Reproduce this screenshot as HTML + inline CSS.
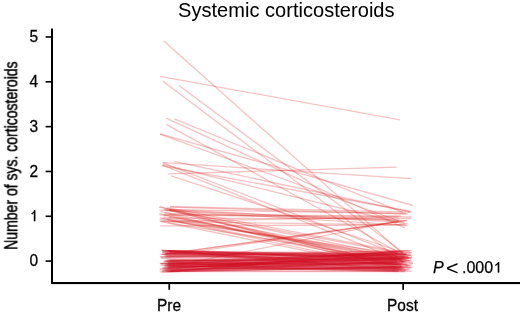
<!DOCTYPE html>
<html><head><meta charset="utf-8"><style>
html,body{margin:0;padding:0;background:#fff;width:520px;height:315px;overflow:hidden}
body{position:relative;font-family:"Liberation Sans",sans-serif;color:#000;-webkit-text-stroke:0.25px #000}
svg{position:absolute;left:0;top:0}
.t{position:absolute;white-space:nowrap;line-height:1;will-change:transform}
.tl{position:absolute;will-change:transform;left:22px;width:16px;text-align:right;font-size:15.5px;line-height:1;white-space:nowrap;transform:scaleY(1.1);transform-origin:50% 50%}
.sy{transform:scaleY(1.02);transform-origin:0 0}
</style></head><body>
<div class="t" style="left:178px;top:0px;font-size:20px;letter-spacing:0.04px;-webkit-text-stroke:0.05px #000">Systemic corticosteroids</div>
<div class="t" id="yl" style="left:0;top:0;font-size:18.5px;-webkit-text-stroke:0.5px #000;transform-origin:0 0;transform:translate(2.3px,249.8px) rotate(-90deg) scaleX(0.757)">Number of sys. corticosteroids</div>
<div class="tl" style="top:252.4px">0</div><div class="tl" style="top:162.8px">2</div><div class="tl" style="top:117.9px">3</div><div class="tl" style="top:73.1px">4</div><div class="tl" style="top:28.3px">5</div>
<div class="t sy" style="left:157.3px;top:297.9px;font-size:15.5px">Pre</div>
<div class="t sy" style="left:387.3px;top:297.9px;font-size:15.5px">Post</div>
<div class="t" style="left:433px;top:259.6px;font-size:16px;transform:scaleY(1.0);transform-origin:0 0"><i>P</i></div>
<div class="t" style="left:446.2px;top:257.8px;font-size:20.5px;-webkit-text-stroke:0;transform:scaleX(1.05);transform-origin:0 0">&lt;</div>
<div class="t" style="left:461.5px;top:259.6px;font-size:16px;transform:scaleY(1.0);transform-origin:0 0">.000</div>
<svg width="520" height="315" viewBox="0 0 520 315">
<g stroke="rgb(210,16,30)" stroke-width="1.3" fill="none" stroke-linecap="butt">
<line x1="163.8" y1="41.0" x2="405.0" y2="255.7" stroke="rgb(216,34,30)" stroke-opacity="0.27"/><line x1="160.0" y1="76.4" x2="400.0" y2="119.9" stroke="rgb(216,34,30)" stroke-opacity="0.27"/><line x1="162.6" y1="80.9" x2="404.0" y2="262.9" stroke="rgb(216,34,30)" stroke-opacity="0.27"/><line x1="179.0" y1="85.4" x2="403.0" y2="252.6" stroke="rgb(216,34,30)" stroke-opacity="0.27"/><line x1="166.2" y1="118.2" x2="405.0" y2="228.0" stroke="rgb(216,34,30)" stroke-opacity="0.27"/><line x1="174.2" y1="118.8" x2="403.0" y2="212.6" stroke="rgb(216,34,30)" stroke-opacity="0.27"/><line x1="160.0" y1="134.2" x2="407.0" y2="224.0" stroke="rgb(216,34,30)" stroke-opacity="0.27"/><line x1="166.2" y1="124.4" x2="398.0" y2="252.0" stroke="rgb(216,34,30)" stroke-opacity="0.27"/><line x1="160.0" y1="133.8" x2="413.0" y2="205.5" stroke="rgb(216,34,30)" stroke-opacity="0.27"/><line x1="162.5" y1="162.7" x2="411.4" y2="178.6" stroke="rgb(216,34,30)" stroke-opacity="0.27"/><line x1="168.3" y1="173.8" x2="396.6" y2="167.1" stroke="rgb(216,34,30)" stroke-opacity="0.27"/><line x1="174.0" y1="161.3" x2="410.0" y2="212.0" stroke="rgb(216,34,30)" stroke-opacity="0.27"/><line x1="161.5" y1="165.8" x2="411.3" y2="211.5" stroke="rgb(216,34,30)" stroke-opacity="0.27"/><line x1="171.2" y1="175.8" x2="402.0" y2="252.0" stroke="rgb(216,34,30)" stroke-opacity="0.27"/><line x1="162.6" y1="164.5" x2="405.0" y2="224.0" stroke="rgb(216,34,30)" stroke-opacity="0.27"/><line x1="163.0" y1="162.8" x2="404.0" y2="256.8" stroke="rgb(216,34,30)" stroke-opacity="0.27"/><line x1="162.6" y1="165.2" x2="405.0" y2="262.0" stroke="rgb(216,34,30)" stroke-opacity="0.27"/><line x1="163.7" y1="215.1" x2="411.9" y2="217.0" stroke="rgb(216,34,30)" stroke-opacity="0.27"/><line x1="164.3" y1="214.6" x2="400.8" y2="216.0" stroke="rgb(216,34,30)" stroke-opacity="0.27"/><line x1="165.7" y1="210.5" x2="399.4" y2="220.2" stroke="rgb(216,34,30)" stroke-opacity="0.27"/><line x1="159.5" y1="210.2" x2="408.4" y2="225.3" stroke="rgb(216,34,30)" stroke-opacity="0.27"/><line x1="169.8" y1="207.1" x2="407.8" y2="214.0" stroke="rgb(216,34,30)" stroke-opacity="0.27"/><line x1="160.3" y1="225.8" x2="405.9" y2="225.0" stroke="rgb(216,34,30)" stroke-opacity="0.27"/><line x1="160.7" y1="221.4" x2="398.5" y2="217.0" stroke="rgb(216,34,30)" stroke-opacity="0.27"/><line x1="163.6" y1="209.5" x2="405.8" y2="213.5" stroke="rgb(216,34,30)" stroke-opacity="0.27"/><line x1="164.2" y1="213.1" x2="404.9" y2="220.7" stroke="rgb(216,34,30)" stroke-opacity="0.27"/><line x1="170.0" y1="206.5" x2="410.6" y2="212.2" stroke="rgb(216,34,30)" stroke-opacity="0.27"/><line x1="162.1" y1="221.6" x2="402.3" y2="224.8" stroke="rgb(216,34,30)" stroke-opacity="0.27"/><line x1="167.3" y1="218.2" x2="410.7" y2="218.5" stroke="rgb(216,34,30)" stroke-opacity="0.27"/><line x1="169.5" y1="209.4" x2="398.0" y2="222.0" stroke="rgb(216,34,30)" stroke-opacity="0.27"/><line x1="169.0" y1="216.9" x2="412.7" y2="263.1" stroke="rgb(216,34,30)" stroke-opacity="0.27"/><line x1="159.3" y1="213.7" x2="409.7" y2="265.6" stroke="rgb(216,34,30)" stroke-opacity="0.27"/><line x1="159.5" y1="219.6" x2="412.5" y2="256.0" stroke="rgb(216,34,30)" stroke-opacity="0.27"/><line x1="159.9" y1="221.3" x2="399.5" y2="269.8" stroke="rgb(216,34,30)" stroke-opacity="0.27"/><line x1="167.7" y1="222.6" x2="406.4" y2="262.1" stroke="rgb(216,34,30)" stroke-opacity="0.27"/><line x1="160.7" y1="211.7" x2="400.0" y2="258.3" stroke="rgb(216,34,30)" stroke-opacity="0.27"/><line x1="159.8" y1="217.8" x2="401.2" y2="265.6" stroke="rgb(216,34,30)" stroke-opacity="0.27"/><line x1="169.7" y1="210.3" x2="402.6" y2="253.5" stroke="rgb(216,34,30)" stroke-opacity="0.27"/><line x1="160.9" y1="218.4" x2="410.8" y2="258.3" stroke="rgb(216,34,30)" stroke-opacity="0.27"/><line x1="159.7" y1="206.6" x2="401.2" y2="265.9" stroke="rgb(216,34,30)" stroke-opacity="0.27"/><line x1="167.4" y1="219.7" x2="402.4" y2="269.5" stroke="rgb(216,34,30)" stroke-opacity="0.27"/><line x1="159.5" y1="214.6" x2="401.6" y2="259.1" stroke="rgb(216,34,30)" stroke-opacity="0.27"/><line x1="162.8" y1="217.2" x2="412.4" y2="261.4" stroke="rgb(216,34,30)" stroke-opacity="0.27"/><line x1="165.1" y1="209.1" x2="400.7" y2="267.9" stroke="rgb(216,34,30)" stroke-opacity="0.27"/><line x1="168.9" y1="210.0" x2="401.7" y2="267.2" stroke="rgb(216,34,30)" stroke-opacity="0.27"/><line x1="167.0" y1="207.6" x2="400.9" y2="252.2" stroke="rgb(216,34,30)" stroke-opacity="0.27"/><line x1="168.6" y1="214.2" x2="404.3" y2="268.9" stroke="rgb(216,34,30)" stroke-opacity="0.27"/><line x1="158.9" y1="207.2" x2="401.6" y2="257.1" stroke="rgb(216,34,30)" stroke-opacity="0.27"/><line x1="161.5" y1="254.7" x2="406.9" y2="220.4" stroke="rgb(216,34,30)" stroke-opacity="0.27"/><line x1="160.5" y1="256.8" x2="399.0" y2="221.6" stroke="rgb(216,34,30)" stroke-opacity="0.27"/><line x1="164.9" y1="254.2" x2="407.2" y2="220.6" stroke="rgb(216,34,30)" stroke-opacity="0.27"/><line x1="169.0" y1="266.9" x2="398.2" y2="220.8" stroke="rgb(216,34,30)" stroke-opacity="0.27"/><line x1="164.6" y1="268.0" x2="396.1" y2="259.4" stroke="rgb(208,10,32)" stroke-opacity="0.25"/><line x1="161.0" y1="250.3" x2="401.5" y2="257.6" stroke="rgb(208,10,32)" stroke-opacity="0.25"/><line x1="167.4" y1="271.7" x2="405.5" y2="271.5" stroke="rgb(208,10,32)" stroke-opacity="0.25"/><line x1="170.0" y1="260.9" x2="407.6" y2="258.0" stroke="rgb(208,10,32)" stroke-opacity="0.25"/><line x1="165.0" y1="261.1" x2="408.1" y2="270.2" stroke="rgb(208,10,32)" stroke-opacity="0.25"/><line x1="165.8" y1="253.0" x2="408.3" y2="256.6" stroke="rgb(208,10,32)" stroke-opacity="0.25"/><line x1="168.6" y1="264.6" x2="411.5" y2="252.3" stroke="rgb(208,10,32)" stroke-opacity="0.25"/><line x1="169.5" y1="251.6" x2="402.5" y2="259.4" stroke="rgb(208,10,32)" stroke-opacity="0.25"/><line x1="166.7" y1="265.4" x2="401.9" y2="270.1" stroke="rgb(208,10,32)" stroke-opacity="0.25"/><line x1="166.9" y1="253.1" x2="412.9" y2="263.4" stroke="rgb(208,10,32)" stroke-opacity="0.25"/><line x1="168.0" y1="262.9" x2="405.5" y2="270.0" stroke="rgb(208,10,32)" stroke-opacity="0.25"/><line x1="168.1" y1="266.8" x2="395.5" y2="266.9" stroke="rgb(208,10,32)" stroke-opacity="0.25"/><line x1="167.5" y1="262.0" x2="404.0" y2="266.3" stroke="rgb(208,10,32)" stroke-opacity="0.25"/><line x1="159.6" y1="269.9" x2="400.4" y2="268.2" stroke="rgb(208,10,32)" stroke-opacity="0.25"/><line x1="169.9" y1="262.3" x2="406.9" y2="264.7" stroke="rgb(208,10,32)" stroke-opacity="0.25"/><line x1="167.2" y1="263.2" x2="398.6" y2="252.0" stroke="rgb(208,10,32)" stroke-opacity="0.25"/><line x1="169.6" y1="268.6" x2="401.9" y2="268.9" stroke="rgb(208,10,32)" stroke-opacity="0.25"/><line x1="165.2" y1="253.3" x2="410.1" y2="251.2" stroke="rgb(208,10,32)" stroke-opacity="0.25"/><line x1="162.7" y1="269.1" x2="398.0" y2="267.2" stroke="rgb(208,10,32)" stroke-opacity="0.25"/><line x1="164.3" y1="268.6" x2="406.3" y2="253.6" stroke="rgb(208,10,32)" stroke-opacity="0.25"/><line x1="170.8" y1="271.7" x2="403.1" y2="252.9" stroke="rgb(208,10,32)" stroke-opacity="0.25"/><line x1="160.0" y1="268.7" x2="407.8" y2="254.7" stroke="rgb(208,10,32)" stroke-opacity="0.25"/><line x1="159.7" y1="271.8" x2="397.4" y2="253.8" stroke="rgb(208,10,32)" stroke-opacity="0.25"/><line x1="162.2" y1="265.2" x2="397.5" y2="262.2" stroke="rgb(208,10,32)" stroke-opacity="0.25"/><line x1="166.7" y1="250.6" x2="406.8" y2="257.0" stroke="rgb(208,10,32)" stroke-opacity="0.25"/><line x1="161.8" y1="272.0" x2="403.6" y2="261.6" stroke="rgb(208,10,32)" stroke-opacity="0.25"/><line x1="167.7" y1="268.3" x2="398.2" y2="256.7" stroke="rgb(208,10,32)" stroke-opacity="0.25"/><line x1="165.5" y1="256.8" x2="406.1" y2="254.6" stroke="rgb(208,10,32)" stroke-opacity="0.25"/><line x1="169.9" y1="253.2" x2="396.6" y2="269.0" stroke="rgb(208,10,32)" stroke-opacity="0.25"/><line x1="164.7" y1="257.0" x2="406.3" y2="259.5" stroke="rgb(208,10,32)" stroke-opacity="0.25"/><line x1="169.6" y1="256.0" x2="409.3" y2="257.7" stroke="rgb(208,10,32)" stroke-opacity="0.25"/><line x1="161.9" y1="254.1" x2="408.0" y2="256.3" stroke="rgb(208,10,32)" stroke-opacity="0.25"/><line x1="162.0" y1="250.4" x2="411.2" y2="260.2" stroke="rgb(208,10,32)" stroke-opacity="0.25"/><line x1="168.6" y1="251.7" x2="400.8" y2="264.3" stroke="rgb(208,10,32)" stroke-opacity="0.25"/><line x1="160.5" y1="263.6" x2="402.9" y2="261.3" stroke="rgb(208,10,32)" stroke-opacity="0.25"/><line x1="159.8" y1="263.3" x2="409.6" y2="268.1" stroke="rgb(208,10,32)" stroke-opacity="0.25"/><line x1="163.4" y1="270.4" x2="409.2" y2="260.6" stroke="rgb(208,10,32)" stroke-opacity="0.25"/><line x1="167.8" y1="250.7" x2="410.1" y2="261.1" stroke="rgb(208,10,32)" stroke-opacity="0.25"/><line x1="170.4" y1="266.3" x2="396.5" y2="265.5" stroke="rgb(208,10,32)" stroke-opacity="0.25"/><line x1="167.9" y1="262.8" x2="406.5" y2="259.7" stroke="rgb(208,10,32)" stroke-opacity="0.25"/><line x1="163.1" y1="251.2" x2="401.9" y2="267.3" stroke="rgb(208,10,32)" stroke-opacity="0.25"/><line x1="169.3" y1="265.8" x2="412.4" y2="267.5" stroke="rgb(208,10,32)" stroke-opacity="0.25"/><line x1="165.7" y1="271.8" x2="404.1" y2="250.8" stroke="rgb(208,10,32)" stroke-opacity="0.25"/><line x1="165.4" y1="254.9" x2="402.2" y2="261.2" stroke="rgb(208,10,32)" stroke-opacity="0.25"/><line x1="167.4" y1="267.5" x2="396.2" y2="251.1" stroke="rgb(208,10,32)" stroke-opacity="0.25"/><line x1="170.1" y1="270.7" x2="399.8" y2="262.4" stroke="rgb(208,10,32)" stroke-opacity="0.25"/><line x1="168.9" y1="268.6" x2="411.2" y2="267.7" stroke="rgb(208,10,32)" stroke-opacity="0.25"/><line x1="166.6" y1="263.5" x2="411.7" y2="271.4" stroke="rgb(208,10,32)" stroke-opacity="0.25"/><line x1="161.7" y1="257.6" x2="399.1" y2="264.1" stroke="rgb(208,10,32)" stroke-opacity="0.25"/><line x1="166.6" y1="259.8" x2="396.9" y2="260.8" stroke="rgb(208,10,32)" stroke-opacity="0.25"/><line x1="162.4" y1="267.3" x2="398.6" y2="263.7" stroke="rgb(208,10,32)" stroke-opacity="0.25"/><line x1="164.3" y1="269.8" x2="404.5" y2="258.1" stroke="rgb(208,10,32)" stroke-opacity="0.25"/><line x1="166.8" y1="254.4" x2="404.5" y2="253.2" stroke="rgb(208,10,32)" stroke-opacity="0.25"/><line x1="162.2" y1="251.2" x2="408.3" y2="265.0" stroke="rgb(208,10,32)" stroke-opacity="0.25"/><line x1="163.1" y1="261.1" x2="411.6" y2="252.6" stroke="rgb(208,10,32)" stroke-opacity="0.25"/><line x1="161.0" y1="258.3" x2="399.3" y2="269.7" stroke="rgb(208,10,32)" stroke-opacity="0.25"/><line x1="169.1" y1="259.7" x2="402.6" y2="263.1" stroke="rgb(208,10,32)" stroke-opacity="0.25"/><line x1="167.4" y1="264.6" x2="395.3" y2="252.0" stroke="rgb(208,10,32)" stroke-opacity="0.25"/><line x1="170.6" y1="263.8" x2="397.1" y2="260.9" stroke="rgb(208,10,32)" stroke-opacity="0.25"/><line x1="167.4" y1="270.9" x2="398.4" y2="271.0" stroke="rgb(208,10,32)" stroke-opacity="0.25"/><line x1="165.8" y1="270.5" x2="404.3" y2="267.8" stroke="rgb(208,10,32)" stroke-opacity="0.25"/><line x1="161.8" y1="250.9" x2="410.1" y2="269.8" stroke="rgb(208,10,32)" stroke-opacity="0.25"/><line x1="160.2" y1="263.7" x2="412.1" y2="264.8" stroke="rgb(208,10,32)" stroke-opacity="0.25"/><line x1="164.9" y1="265.5" x2="404.3" y2="271.6" stroke="rgb(208,10,32)" stroke-opacity="0.25"/><line x1="167.6" y1="267.1" x2="410.2" y2="255.8" stroke="rgb(208,10,32)" stroke-opacity="0.25"/><line x1="164.2" y1="266.5" x2="398.5" y2="271.5" stroke="rgb(208,10,32)" stroke-opacity="0.25"/><line x1="169.8" y1="251.6" x2="409.4" y2="258.2" stroke="rgb(208,10,32)" stroke-opacity="0.25"/><line x1="164.2" y1="261.3" x2="405.8" y2="254.4" stroke="rgb(208,10,32)" stroke-opacity="0.25"/><line x1="162.5" y1="252.6" x2="411.4" y2="254.1" stroke="rgb(208,10,32)" stroke-opacity="0.25"/><line x1="164.2" y1="253.5" x2="411.1" y2="255.2" stroke="rgb(208,10,32)" stroke-opacity="0.25"/><line x1="168.3" y1="260.3" x2="402.3" y2="264.4" stroke="rgb(208,10,32)" stroke-opacity="0.25"/><line x1="164.9" y1="265.1" x2="395.2" y2="258.3" stroke="rgb(208,10,32)" stroke-opacity="0.25"/><line x1="162.2" y1="268.4" x2="412.0" y2="257.5" stroke="rgb(208,10,32)" stroke-opacity="0.25"/><line x1="166.1" y1="261.1" x2="404.6" y2="257.9" stroke="rgb(208,10,32)" stroke-opacity="0.25"/><line x1="167.6" y1="260.8" x2="408.7" y2="258.5" stroke="rgb(208,10,32)" stroke-opacity="0.25"/><line x1="168.0" y1="271.5" x2="399.6" y2="267.6" stroke="rgb(208,10,32)" stroke-opacity="0.25"/><line x1="163.8" y1="262.1" x2="396.8" y2="259.9" stroke="rgb(208,10,32)" stroke-opacity="0.25"/><line x1="165.3" y1="261.2" x2="412.4" y2="258.0" stroke="rgb(208,10,32)" stroke-opacity="0.25"/><line x1="168.8" y1="263.7" x2="396.4" y2="270.9" stroke="rgb(208,10,32)" stroke-opacity="0.25"/><line x1="170.2" y1="270.2" x2="397.9" y2="261.1" stroke="rgb(208,10,32)" stroke-opacity="0.25"/><line x1="166.5" y1="256.5" x2="396.1" y2="260.4" stroke="rgb(208,10,32)" stroke-opacity="0.25"/><line x1="166.4" y1="264.9" x2="401.6" y2="259.7" stroke="rgb(208,10,32)" stroke-opacity="0.25"/><line x1="162.8" y1="271.9" x2="407.9" y2="266.5" stroke="rgb(208,10,32)" stroke-opacity="0.25"/><line x1="160.0" y1="256.8" x2="397.8" y2="252.3" stroke="rgb(208,10,32)" stroke-opacity="0.25"/><line x1="168.1" y1="250.7" x2="395.9" y2="270.3" stroke="rgb(208,10,32)" stroke-opacity="0.25"/><line x1="169.9" y1="261.4" x2="402.7" y2="266.6" stroke="rgb(208,10,32)" stroke-opacity="0.25"/><line x1="165.5" y1="256.0" x2="411.9" y2="250.6" stroke="rgb(208,10,32)" stroke-opacity="0.25"/><line x1="168.9" y1="265.2" x2="405.9" y2="262.0" stroke="rgb(208,10,32)" stroke-opacity="0.25"/><line x1="161.8" y1="270.7" x2="395.9" y2="262.2" stroke="rgb(208,10,32)" stroke-opacity="0.25"/><line x1="167.2" y1="265.7" x2="403.2" y2="262.7" stroke="rgb(208,10,32)" stroke-opacity="0.25"/><line x1="168.4" y1="250.6" x2="404.6" y2="255.9" stroke="rgb(208,10,32)" stroke-opacity="0.25"/><line x1="162.2" y1="252.5" x2="397.0" y2="258.3" stroke="rgb(208,10,32)" stroke-opacity="0.25"/><line x1="163.6" y1="254.9" x2="399.9" y2="259.0" stroke="rgb(208,10,32)" stroke-opacity="0.25"/><line x1="166.8" y1="269.3" x2="408.6" y2="250.6" stroke="rgb(208,10,32)" stroke-opacity="0.25"/><line x1="170.0" y1="271.4" x2="410.8" y2="266.0" stroke="rgb(208,10,32)" stroke-opacity="0.25"/><line x1="164.4" y1="266.1" x2="406.2" y2="270.3" stroke="rgb(208,10,32)" stroke-opacity="0.25"/><line x1="160.5" y1="265.2" x2="407.2" y2="263.7" stroke="rgb(208,10,32)" stroke-opacity="0.25"/><line x1="165.0" y1="263.9" x2="398.8" y2="253.6" stroke="rgb(208,10,32)" stroke-opacity="0.25"/><line x1="160.4" y1="254.3" x2="397.2" y2="255.1" stroke="rgb(208,10,32)" stroke-opacity="0.25"/><line x1="162.0" y1="263.2" x2="402.6" y2="263.8" stroke="rgb(208,10,32)" stroke-opacity="0.25"/><line x1="162.0" y1="250.3" x2="404.0" y2="258.9" stroke="rgb(208,10,32)" stroke-opacity="0.25"/><line x1="165.0" y1="250.6" x2="407.0" y2="254.4" stroke="rgb(208,10,32)" stroke-opacity="0.25"/>
</g>
<g fill="#000">
<rect x="51" y="28.5" width="2" height="255.5"/>
<rect x="51" y="282" width="469" height="2.1"/>
<rect x="45.6" y="260.30" width="7" height="1.6"/><rect x="45.6" y="215.48" width="7" height="1.6"/><rect x="45.6" y="170.66" width="7" height="1.6"/><rect x="45.6" y="125.84" width="7" height="1.6"/><rect x="45.6" y="81.02" width="7" height="1.6"/><rect x="45.6" y="36.20" width="7" height="1.6"/>
<rect x="168.4" y="283" width="1.7" height="6.8"/>
<rect x="33.8" y="210.2" width="1.65" height="11.1"/>
<path d="M31.2 213.6 L34.3 210.9 L35.2 211.9 L32.1 214.5 Z"/>
<rect x="497.7" y="262.1" width="1.6" height="10.5"/>
<path d="M494.9 265.0 L498.1 262.5 L498.9 263.5 L495.7 266.0 Z"/>
<rect x="402.3" y="283" width="1.7" height="6.8"/>
</g>
</svg>
</body></html>
